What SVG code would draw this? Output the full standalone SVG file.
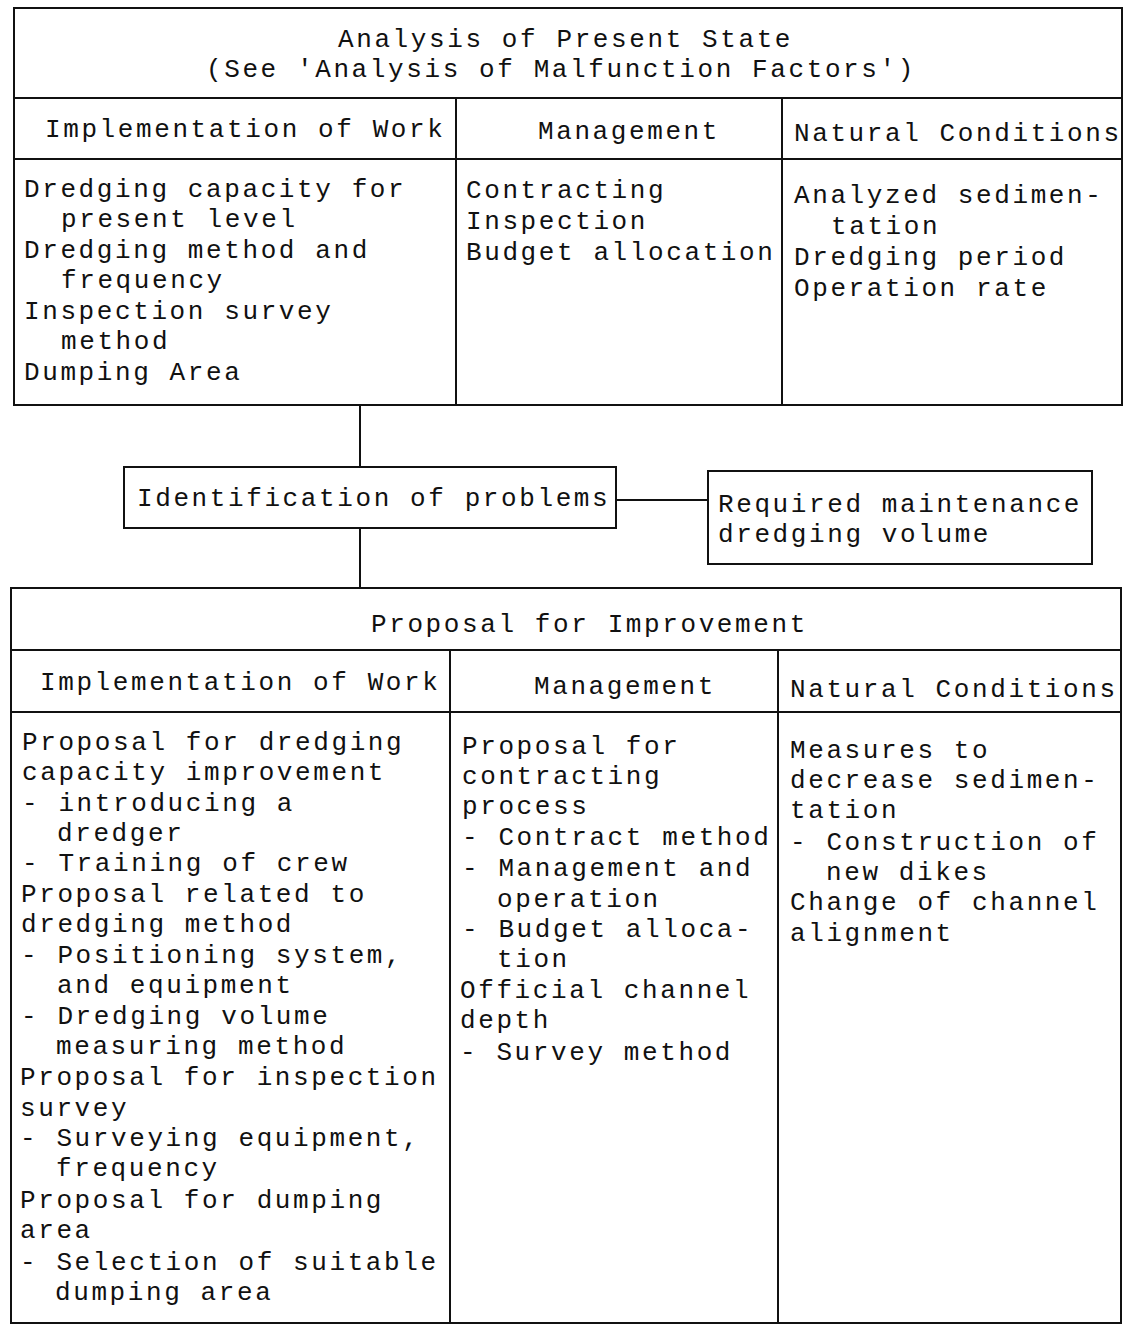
<svg xmlns="http://www.w3.org/2000/svg" width="1124" height="1329" viewBox="0 0 1124 1329">
<style>
.t{font-family:"Liberation Mono","Courier New",monospace;font-size:26px;letter-spacing:2.6px;fill:#111}
.b{fill:none;stroke:#111;stroke-width:2}
</style>
<rect width="1124" height="1329" fill="#fff"/>
<g id="present-state">
<rect class="b" x="14" y="8" width="1108" height="397"/>
<line class="b" x1="14" y1="98" x2="1122" y2="98"/>
<line class="b" x1="14" y1="159" x2="1122" y2="159"/>
<line class="b" x1="456" y1="98" x2="456" y2="405"/>
<line class="b" x1="782" y1="98" x2="782" y2="405"/>
<text class="t" x="338" y="47">Analysis of Present State</text>
<text class="t" x="206" y="77">(See 'Analysis of Malfunction Factors')</text>
<text class="t" x="45" y="137">Implementation of Work</text>
<text class="t" x="538" y="139">Management</text>
<text class="t" x="794" y="141">Natural Conditions</text>
<text class="t" x="24" y="197">Dredging capacity for</text>
<text class="t" x="61" y="227">present level</text>
<text class="t" x="24" y="258">Dredging method and</text>
<text class="t" x="61" y="288">frequency</text>
<text class="t" x="24" y="319">Inspection survey</text>
<text class="t" x="61" y="349">method</text>
<text class="t" x="24" y="380">Dumping Area</text>
<text class="t" x="466" y="198">Contracting</text>
<text class="t" x="466" y="229">Inspection</text>
<text class="t" x="466" y="260">Budget allocation</text>
<text class="t" x="794" y="203">Analyzed sedimen-</text>
<text class="t" x="831" y="234">tation</text>
<text class="t" x="794" y="265">Dredging period</text>
<text class="t" x="794" y="296">Operation rate</text>
</g>
<g id="identification">
<rect class="b" x="124" y="467" width="492" height="61"/>
<text class="t" x="137" y="506">Identification of problems</text>
</g>
<g id="required-volume">
<rect class="b" x="708" y="471" width="384" height="93"/>
<text class="t" x="718" y="512">Required maintenance</text>
<text class="t" x="718" y="542">dredging volume</text>
</g>
<g id="connectors">
<line class="b" x1="360" y1="405" x2="360" y2="467"/>
<line class="b" x1="616" y1="500" x2="708" y2="500"/>
<line class="b" x1="360" y1="528" x2="360" y2="588"/>
</g>
<g id="proposal">
<rect class="b" x="11" y="588" width="1110" height="735"/>
<line class="b" x1="11" y1="650" x2="1121" y2="650"/>
<line class="b" x1="11" y1="712" x2="1121" y2="712"/>
<line class="b" x1="450" y1="650" x2="450" y2="1323"/>
<line class="b" x1="778" y1="650" x2="778" y2="1323"/>
<text class="t" x="371" y="632">Proposal for Improvement</text>
<text class="t" x="40" y="690">Implementation of Work</text>
<text class="t" x="534" y="694">Management</text>
<text class="t" x="790" y="697">Natural Conditions</text>
<text class="t" x="22" y="750">Proposal for dredging</text>
<text class="t" x="22" y="780">capacity improvement</text>
<text class="t" x="22" y="811">- introducing a</text>
<text class="t" x="57" y="841">dredger</text>
<text class="t" x="22" y="871">- Training of crew</text>
<text class="t" x="21" y="902">Proposal related to</text>
<text class="t" x="21" y="932">dredging method</text>
<text class="t" x="21" y="963">- Positioning system,</text>
<text class="t" x="57" y="993">and equipment</text>
<text class="t" x="21" y="1024">- Dredging volume</text>
<text class="t" x="56" y="1054">measuring method</text>
<text class="t" x="20" y="1085">Proposal for inspection</text>
<text class="t" x="20" y="1116">survey</text>
<text class="t" x="20" y="1146">- Surveying equipment,</text>
<text class="t" x="56" y="1176">frequency</text>
<text class="t" x="20" y="1208">Proposal for dumping</text>
<text class="t" x="20" y="1238">area</text>
<text class="t" x="20" y="1270">- Selection of suitable</text>
<text class="t" x="55" y="1300">dumping area</text>
<text class="t" x="462" y="754">Proposal for</text>
<text class="t" x="462" y="784">contracting</text>
<text class="t" x="462" y="814">process</text>
<text class="t" x="462" y="845">- Contract method</text>
<text class="t" x="462" y="876">- Management and</text>
<text class="t" x="497" y="907">operation</text>
<text class="t" x="462" y="937">- Budget alloca-</text>
<text class="t" x="497" y="967">tion</text>
<text class="t" x="460" y="998">Official channel</text>
<text class="t" x="460" y="1028">depth</text>
<text class="t" x="460" y="1060">- Survey method</text>
<text class="t" x="790" y="758">Measures to</text>
<text class="t" x="790" y="788">decrease sedimen-</text>
<text class="t" x="790" y="818">tation</text>
<text class="t" x="790" y="850">- Construction of</text>
<text class="t" x="826" y="880">new dikes</text>
<text class="t" x="790" y="910">Change of channel</text>
<text class="t" x="790" y="941">alignment</text>
</g>
</svg>
